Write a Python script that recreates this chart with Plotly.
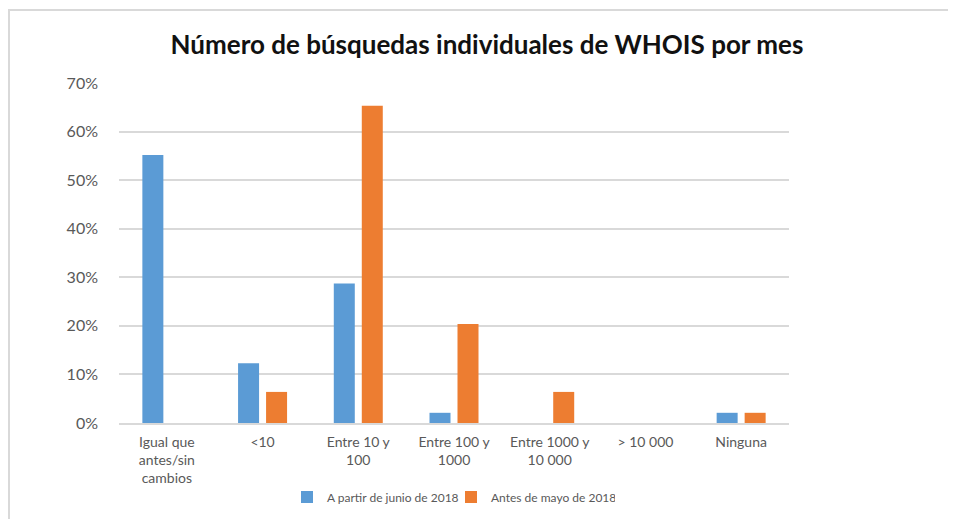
import plotly.graph_objects as go

categories = ["Igual que<br>antes/sin<br>cambios", "&lt;10", "Entre 10 y<br>100", "Entre 100 y<br>1000",
              "Entre 1000 y<br>10 000", "&gt; 10 000", "Ninguna"]
series_junio = [0.552, 0.123, 0.287, 0.021, 0.0, 0.0, 0.021]
series_mayo = [0.0, 0.064, 0.653, 0.204, 0.064, 0.0, 0.021]
name_junio = "A partir de junio de 2018"
name_mayo = "Antes de mayo de 2018"
title_text = "Número de búsquedas individuales de WHOIS por mes"

OFF = 8  # default page body margin
W, H = 956 - OFF, 519 - OFF
L, R, T, B = 119 - OFF, 789 - OFF, 83 - OFF, 423 - OFF

def px_x(p):
    return (p - OFF - L) / (R - L)

def px_y(p):
    return (B - (p - OFF)) / (B - T)

fig = go.Figure()
fig.add_trace(go.Bar(x=categories, y=series_junio, name=name_junio,
                     marker=dict(color="#5B9BD5", line=dict(width=0))))
fig.add_trace(go.Bar(x=categories, y=series_mayo, name=name_mayo,
                     marker=dict(color="#ED7D31", line=dict(width=0))))

font_family = "Lato, 'Open Sans', sans-serif"
fig.update_layout(
    width=W, height=H,
    margin=dict(l=L, r=W - R, t=T, b=H - B, autoexpand=False),
    paper_bgcolor="white", plot_bgcolor="white",
    barmode="group", bargap=0.415, bargroupgap=0.25,
    title=dict(text="<b>" + title_text + "</b>", x=(487 - OFF) / W, xanchor="center",
               y=1 - (45 - OFF) / H, yanchor="middle",
               font=dict(family=font_family, size=26, color="#111111")),
    font=dict(family=font_family, color="#595959"),
    showlegend=True,
    legend=dict(orientation="h", x=(451 - OFF) / W, xref="container", xanchor="center",
                y=1 - (497 - OFF) / H, yref="container", yanchor="middle",
                font=dict(size=12, color="#595959"), itemwidth=30, traceorder="normal",
                entrywidth=119, entrywidthmode="pixels"),
    xaxis=dict(showgrid=False, showline=True, linecolor="#D9D9D9", linewidth=1.5,
               automargin=False,
               tickfont=dict(size=14, color="#595959"), ticks="", ticklabelstandoff=5),
    yaxis=dict(range=[0, 0.7], dtick=0.1, tickformat=".0%", showgrid=True,
               automargin=False,
               gridcolor="#D9D9D9", gridwidth=1.5, zeroline=False, showline=False,
               tickfont=dict(size=16, color="#595959"), ticks="", ticklabelstandoff=20),
    shapes=[
        dict(type="line", xref="paper", yref="paper", x0=px_x(5), x1=px_x(964),
             y0=px_y(10), y1=px_y(10), line=dict(color="#D9D9D9", width=2)),
        dict(type="line", xref="paper", yref="paper", x0=px_x(9), x1=px_x(9),
             y0=px_y(10), y1=px_y(530), line=dict(color="#D9D9D9", width=2)),
    ],
)

fig.write_html("out.html")
